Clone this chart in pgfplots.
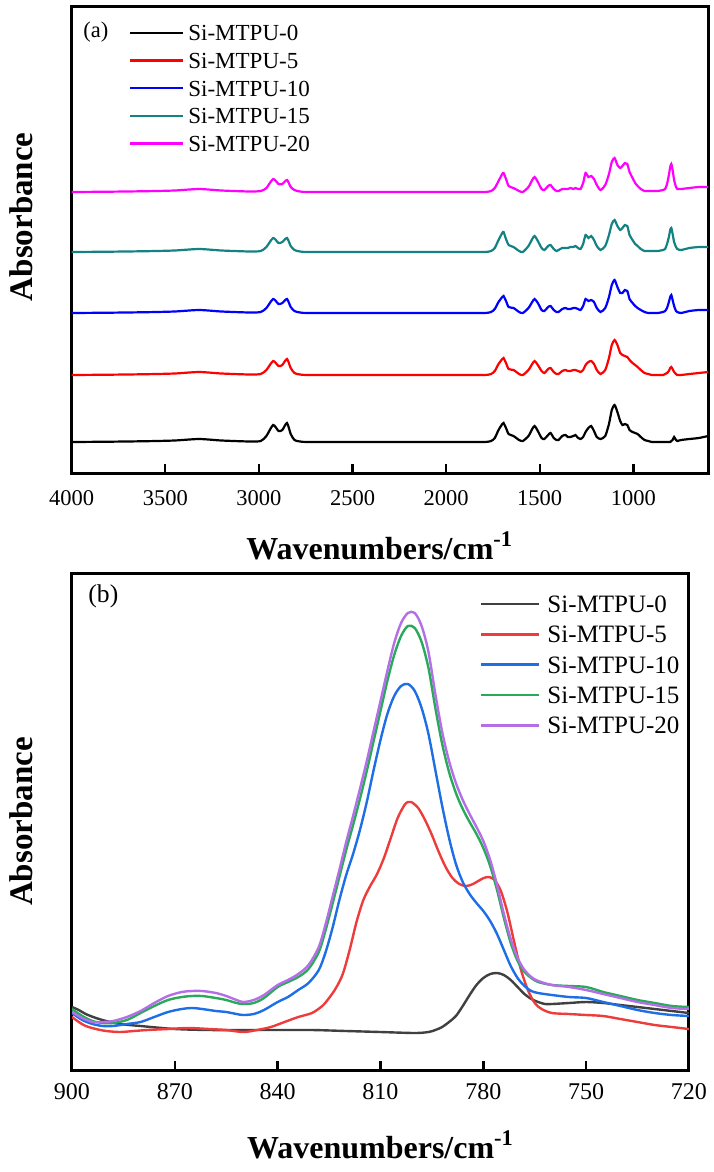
\documentclass[border=0pt]{standalone}
\usepackage{pgfplots}
\pgfplotsset{compat=1.18}
\usepackage{pgfplotstable}
\usepackage{fontspec}
\setmainfont{Liberation Serif}
\definecolor{cTeal}{RGB}{20,130,130}
\definecolor{cMag}{RGB}{255,0,255}
\definecolor{cRed}{RGB}{255,0,0}
\definecolor{cBlue}{RGB}{0,0,255}
\definecolor{bBlack}{RGB}{64,64,64}
\definecolor{bRed}{RGB}{238,60,60}
\definecolor{bBlue}{RGB}{30,110,230}
\definecolor{bGreen}{RGB}{40,170,90}
\definecolor{bPurple}{RGB}{180,110,230}
\pgfplotstableread{
x s0 s5 s10 s15 s20
4000 0 0 0 0 0
3800 0.3 0.3 0.3 0.3 0.3
3600 0.8 0.8 0.8 0.8 0.8
3450 1.5 1.5 1.5 1.5 1.5
3320 3 3 3 3 3
3200 1.5 1.5 1.5 1.5 1.5
3050 0.5 0.5 0.5 0.5 0.5
2990 1 1 1 1 1
2960 6 5 5 5 4
2924 17 14 14 14 13
2895 11 9 9 9 8
2875 12 10 10 10 8
2850 19 16 14 14 12
2830 8 7 6 6 5
2810 2 2 2 2 2
2780 0.5 0.5 0.5 0.5 0.5
2700 0 0 0 0 0
2000 0 0 0 0 0
1800 0 0 0 0 0
1760 1 1 1 1 1
1740 4 4 4 4 4
1720 12 11 11 12 11
1700 18 16 16 19 18
1693 19 17 17 20 19
1680 14 12 12 13 13
1666 8 6 6 7 6
1640 6 5 5 5 4
1610 2 1 1 1 1
1590 1 0 0 0 0
1560 6 5 5 6 5
1540 13 11 11 13 12
1527 16 14 14 16 15
1510 11 10 10 11 10
1490 4 4 3 4 3
1475 3 2 2 2 2
1455 7 6 6 6 6
1442 9 7 7 7 7
1425 4 3 3 3 3
1410 2 1 1 1 1
1399 2 1 1 2 1
1380 6 4 4 4 3
1362 7 5 5 4 3
1350 5 4 4 4 3
1336 5 4 4 5 4
1320 6 5 5 5 3
1309 7 5 5 6 4
1295 4 4 4 4 3
1282 3 3 3 3 3
1268 5 5 7 8 9
1255 10 10 14 17 19
1240 14 13 12 14 15
1225 16 14 13 16 16
1210 11 11 11 12 13
1195 5 5 5 6 7
1175 3 1 1 2 2
1150 6 5 5 6 7
1130 18 17 16 17 18
1115 32 30 28 28 30
1100 37 35 33 32 34
1085 30 30 26 26 27
1070 21 22 20 22 24
1058 17 20 20 24 26
1045 18 19 23 27 29
1032 17 18 22 26 28
1020 12 15 14 17 20
1004 10 12 10 12 14
990 9 10 7 8 9
977 8 8 5 6 6
960 5 5 3 3 3
940 2 2 1 1 1
920 1 1 0 1 1
900 0 0 0 1 1
870 0 0 0 1 1
840 0 0 1 2 2
830 0 1 2 3 3
820 0 2 5 8 8
810 0 4 11 15 17
803 0 7 16 22 25
797 1 8 18 24 28
790 2 6 13 18 22
782 5 3 7 10 12
772 2 1 2 5 5
765 1 0 1 3 3
745 2 0 0 2 3
700 3 1 2 4 4
650 4 2 3 5 5
600 6 3 3 5 5
}\specA
\begin{document}
\begin{tikzpicture}
\path[use as bounding box] (0,0) rectangle (356.5pt,-586pt);
% ---------------- panel (a)
\begin{axis}[
  at={(35.85pt,-3.5pt)}, anchor=north west, scale only axis,
  width=318.25pt, height=233pt,
  xmin=600, xmax=4000, x dir=reverse, ymin=0, ymax=466,
  xtick={1000,1500,...,4000}, ytick=\empty,
  tick align=inside, xtick pos=left, major tick length=4.5pt,
  tick style={line width=1.2pt, black},
  axis line style={line width=1.5pt},
  /pgf/number format/assume math mode=true,
  /pgf/number format/1000 sep={},
  ticklabel style={font=\fontsize{11.25}{13}\selectfont},
  xticklabel style={inner sep=0pt, anchor=north, yshift=-8.5pt},
  xlabel={\textbf{Wavenumbers/cm\textsuperscript{-1}}},
  xlabel style={font=\fontsize{16}{18}\selectfont, at={(axis description cs:0.484,0)}, anchor=base, yshift=-43pt},
  ylabel={\textbf{Absorbance}},
  ylabel style={font=\fontsize{16.5}{18}\selectfont, at={(axis description cs:-0.0608,0.55)}, anchor=base},
  legend style={at={(rel axis cs:0.09,0.962)}, anchor=north west, draw=none, fill=none,
    inner sep=0pt, outer sep=0pt, font=\fontsize{11.5}{13}\selectfont, row sep=5.85pt, column sep=2pt,
    nodes={inner sep=0pt, text height=8pt, text depth=0pt}},
  legend cell align=left,
  legend image code/.code={\draw[#1, line width=1.2pt] (0pt,0pt) -- (26.5pt,0pt);},
]
\addplot[black, line width=1.1pt, smooth, tension=0.4] table[x=x, y expr=\thisrow{s0}+31] {\specA};
\addplot[cRed, line width=1.1pt, smooth, tension=0.4] table[x=x, y expr=\thisrow{s5}+98] {\specA};
\addplot[cBlue, line width=1.1pt, smooth, tension=0.4] table[x=x, y expr=\thisrow{s10}+160] {\specA};
\addplot[cTeal, line width=1.1pt, smooth, tension=0.4] table[x=x, y expr=\thisrow{s15}+221] {\specA};
\addplot[cMag, line width=1.1pt, smooth, tension=0.4] table[x=x, y expr=\thisrow{s20}+281] {\specA};
\legend{Si-MTPU-0,Si-MTPU-5,Si-MTPU-10,Si-MTPU-15,Si-MTPU-20}
\node[anchor=base west, font=\fontsize{11.25}{13}\selectfont, inner sep=0pt] at (rel axis cs:0.0177,0.935) {(a)};
\end{axis}
% ---------------- panel (b)
\begin{axis}[
  at={(36pt,-286.5pt)}, anchor=north west, scale only axis,
  width=308.5pt, height=248.5pt,
  xmin=720, xmax=900, x dir=reverse, ymin=0, ymax=497,
  xtick={720,750,...,900}, ytick=\empty,
  tick align=inside, xtick pos=left, major tick length=4.5pt,
  tick style={line width=1.2pt, black},
  axis line style={line width=1.5pt},
  /pgf/number format/assume math mode=true,
  ticklabel style={font=\fontsize{12}{14}\selectfont},
  xticklabel style={inner sep=0pt, anchor=north, yshift=-6.5pt},
  xlabel={\textbf{Wavenumbers/cm\textsuperscript{-1}}},
  xlabel style={font=\fontsize{16}{18}\selectfont, at={(axis description cs:0.5,0)}, anchor=base, yshift=-44pt},
  ylabel={\textbf{Absorbance}},
  ylabel style={font=\fontsize{16.5}{18}\selectfont, at={(axis description cs:-0.0632,0.5)}, anchor=base},
  legend style={at={(rel axis cs:0.661,0.955)}, anchor=north west, draw=none, fill=none,
    inner sep=0pt, outer sep=0pt, font=\fontsize{12.5}{14}\selectfont, row sep=6.7pt, column sep=3.5pt,
    nodes={inner sep=0pt, text height=8.5pt, text depth=0pt}},
  legend cell align=left,
  legend image code/.code={\draw[#1, line width=1.3pt] (0pt,0pt) -- (29pt,0pt);},
]
\addplot[bBlack, line width=1.2pt, smooth] coordinates {(900,63)(898,60)(896,56)(893,52)(890,49)(886,46)(880,44)(870,41)(860,40)(850,40)(840,40)(830,40)(820,39)(810,38)(800,37)(796,38)(794,40)(792,43)(790,48)(788,54)(786,64)(784,75)(782,85)(780,92)(778,96)(776,97)(774,95)(772,90)(770,83)(768,76)(766,71)(764,68)(762,66)(760,66)(755,67)(750,68)(745,67)(740,65)(735,63)(730,61)(725,59)(720,57)};
\addplot[bRed, line width=1.2pt, smooth] coordinates {(900,53)(898,48)(896,44)(893,41)(890,39)(886,38)(882,39)(878,40)(872,41)(866,42)(860,41)(855,40)(850,38)(846,40)(842,43)(838,48)(834,53)(830,57)(827,64)(825,72)(823,82)(821,96)(819,120)(817,148)(815,170)(813,184)(811,196)(809,212)(807,232)(805,252)(803,265)(802,268)(801,268)(799,262)(797,250)(795,235)(793,218)(791,203)(789,192)(787,186)(785,184)(783,186)(781,190)(779,193)(777,191)(775,180)(773,158)(771,128)(769,100)(767,80)(765,67)(763,61)(760,57)(755,56)(750,55)(745,54)(740,51)(735,48)(730,45)(725,43)(720,41)};
\addplot[bBlue, line width=1.2pt, smooth] coordinates {(900,57)(897,50)(894,46)(891,44)(888,44)(884,46)(880,48)(876,53)(872,58)(868,61)(865,62)(862,61)(858,59)(855,58)(852,56)(850,55)(847,56)(844,60)(840,68)(837,73)(834,80)(831,87)(828,100)(826,118)(824,142)(822,170)(820,195)(818,216)(816,240)(814,268)(812,300)(810,330)(808,356)(806,374)(804,384)(802,386)(800,379)(798,362)(796,336)(794,300)(792,264)(790,232)(788,206)(786,188)(784,176)(782,167)(780,159)(778,149)(776,136)(774,120)(772,104)(770,92)(768,84)(766,79)(764,77)(760,75)(755,73)(750,72)(745,68)(740,64)(735,60)(730,57)(725,55)(720,54)};
\addplot[bGreen, line width=1.2pt, smooth] coordinates {(900,61)(897,54)(894,49)(891,47)(888,47)(884,50)(880,57)(876,64)(872,70)(868,73)(865,74)(862,74)(858,72)(855,70)(852,67)(850,66)(847,67)(844,72)(840,83)(837,88)(834,93)(831,101)(828,118)(826,140)(824,166)(822,193)(820,220)(818,245)(816,271)(814,299)(812,329)(810,359)(808,389)(806,415)(804,434)(802,444)(800,442)(798,428)(796,402)(794,362)(792,326)(790,298)(788,277)(786,261)(784,248)(782,236)(780,222)(778,204)(776,180)(774,152)(772,127)(770,109)(768,98)(766,92)(764,88)(760,85)(755,84)(750,83)(745,78)(740,74)(735,70)(730,67)(725,64)(720,63)};
\addplot[bPurple, line width=1.2pt, smooth] coordinates {(900,58)(897,52)(894,48)(891,48)(888,49)(884,53)(880,59)(876,67)(872,74)(868,78)(865,79)(862,79)(858,77)(855,74)(852,70)(850,68)(847,70)(844,75)(840,85)(837,90)(834,96)(831,105)(828,123)(826,146)(824,173)(822,200)(820,228)(818,254)(816,281)(814,309)(812,339)(810,369)(808,399)(806,427)(804,447)(802,457)(800,457)(798,444)(796,418)(794,376)(792,338)(790,309)(788,287)(786,270)(784,256)(782,243)(780,229)(778,210)(776,185)(774,156)(772,131)(770,112)(768,100)(766,93)(764,89)(760,85)(755,83)(750,80)(745,76)(740,72)(735,68)(730,65)(725,62)(720,61)};
\legend{Si-MTPU-0,Si-MTPU-5,Si-MTPU-10,Si-MTPU-15,Si-MTPU-20}
\node[anchor=base west, font=\fontsize{12.8}{14}\selectfont, inner sep=0pt] at (rel axis cs:0.026,0.94) {(b)};
\end{axis}
\end{tikzpicture}
\end{document}
